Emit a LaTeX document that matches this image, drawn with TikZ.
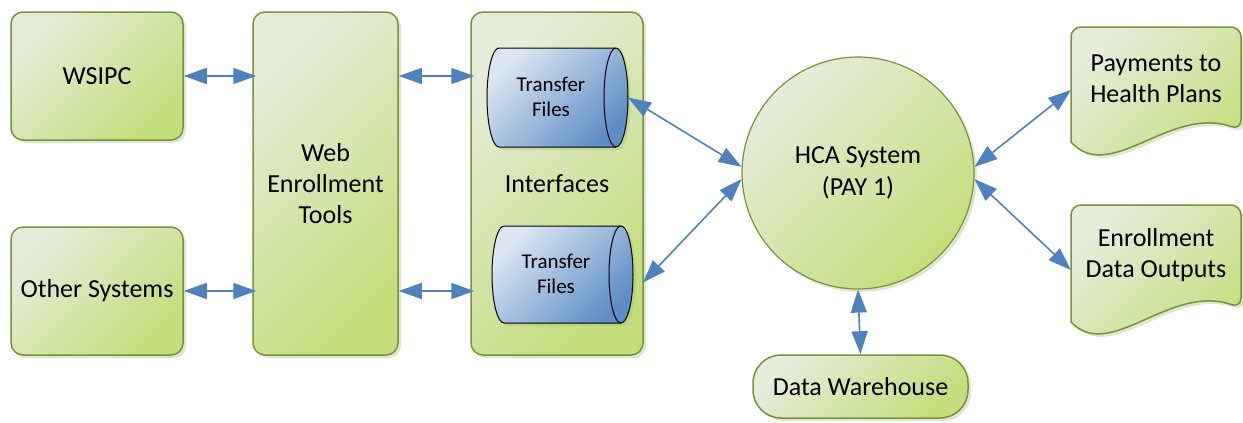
\documentclass[tikz,border=0pt]{standalone}
\usepackage{fontspec}
\setmainfont{Carlito}
\usetikzlibrary{arrows.meta,shadows}
\definecolor{gborder}{HTML}{77933C}
\definecolor{glight}{HTML}{E6ECDA}
\definecolor{gdark}{HTML}{C3DE7C}
\definecolor{blight}{HTML}{DCE6F2}
\definecolor{bdark}{HTML}{5F8DC6}
\definecolor{arr}{HTML}{4F81BD}
\begin{document}
\begin{tikzpicture}[x=1pt,y=-1pt,
  myshadow/.style={drop shadow={shadow xshift=3pt,shadow yshift=-3pt,opacity=0.35,fill=gdark!60!gray}},
  gshade/.style={top color=glight,bottom color=gdark,shading angle=45},
  greenbox/.style={draw=gborder,line width=1.5pt,rounded corners=12pt,gshade,myshadow,
     font=\fontsize{26}{31}\selectfont,align=center},
  cylbody/.style={draw=black,line width=1pt,top color=blight,bottom color=bdark,shading angle=45,myshadow},
  cylline/.style={draw=black,line width=1pt},
  cyltext/.style={font=\fontsize{21}{25}\selectfont,align=center},
  docshape/.style={draw=gborder,line width=1.5pt,gshade,myshadow},
  bigtext/.style={font=\fontsize{26}{31}\selectfont,align=center},
  anchorbox/.style={inner sep=0pt,outer sep=0pt},
  arrowst/.style={draw=arr,line width=1.6pt,{Triangle[length=23pt,width=16pt]}-{Triangle[length=23pt,width=16pt]}}
]
\useasboundingbox (0,0) rectangle (1243,423);
% left boxes
\node[greenbox,minimum width=172pt,minimum height=128pt] (wsipc) at (97,76) {WSIPC};
\node[greenbox,minimum width=172pt,minimum height=128pt] (other) at (97,291) {Other Systems};
\node[greenbox,minimum width=145pt,minimum height=343pt] (web) at (325.5,183.5) {Web\\Enrollment\\Tools};
\node[greenbox,minimum width=172pt,minimum height=343pt] (intf) at (557,183.5) {Interfaces};
% cylinders
\node[anchorbox,minimum width=141pt,minimum height=99pt] (cyl1) at (557.5,97.5) {};
\path[cylbody] (499,48) -- (616,48) .. controls (622.6,48) and (628,70.2) .. (628,97.5)
  .. controls (628,124.8) and (622.6,147) .. (616,147) -- (499,147)
  .. controls (492.4,147) and (487,124.8) .. (487,97.5)
  .. controls (487,70.2) and (492.4,48) .. (499,48) -- cycle;
\path[cylline] (616,48) .. controls (609.4,48) and (604,70.2) .. (604,97.5)
  .. controls (604,124.8) and (609.4,147) .. (616,147);
\node[cyltext] (cyl1text) at (551,97) {Transfer\\Files};
\node[anchorbox,minimum width=141pt,minimum height=97pt] (cyl2) at (562.5,274.5) {};
\path[cylbody] (504,226) -- (621,226) .. controls (627.6,226) and (633,247.7) .. (633,274.5)
  .. controls (633,301.3) and (627.6,323) .. (621,323) -- (504,323)
  .. controls (497.4,323) and (492,301.3) .. (492,274.5)
  .. controls (492,247.7) and (497.4,226) .. (504,226) -- cycle;
\path[cylline] (621,226) .. controls (614.4,226) and (609,247.7) .. (609,274.5)
  .. controls (609,301.3) and (614.4,323) .. (621,323);
\node[cyltext] (cyl2text) at (556,274) {Transfer\\Files};
% HCA circle
\node[circle,draw=gborder,line width=1.2pt,gshade,myshadow,minimum size=232pt,
      font=\fontsize{26}{32}\selectfont,align=center] (hca) at (858,173) {HCA System\\(PAY 1)};
% data warehouse
\node[greenbox,rounded corners=28pt,minimum width=215pt,minimum height=63pt] (dw) at (860.5,386.5) {Data Warehouse};
% documents
\node[anchorbox,minimum width=170pt,minimum height=126pt] (pay) at (1156,90) {};
\path[docshape] (1071,142) [rounded corners=10pt] -- (1071,27) -- (1241,27) -- (1241,130) [sharp corners]
   .. controls (1170,105) and (1110,185) .. (1071,142) -- cycle;
\node[bigtext] (paytext) at (1156,79) {Payments to\\Health Plans};
\node[anchorbox,minimum width=170pt,minimum height=130pt] (enr) at (1156,270) {};
\path[docshape] (1071,322) [rounded corners=10pt] -- (1071,205) -- (1241,205) -- (1241,308) [sharp corners]
   .. controls (1170,283) and (1110,363) .. (1071,322) -- cycle;
\node[bigtext] (enrtext) at (1156,255) {Enrollment\\Data Outputs};
% connectors
\draw[arrowst] (wsipc.east) -- ([xshift=4pt]wsipc.east -| web.west);
\draw[arrowst] (other.east) -- ([xshift=4pt]other.east -| web.west);
\draw[arrowst] (web.east |- wsipc.east) -- ([xshift=4pt]intf.west |- wsipc.east);
\draw[arrowst] (web.east |- other.east) -- ([xshift=4pt]intf.west |- other.east);
\draw[arrowst] (cyl1.east) -- (hca.177);
\draw[arrowst] ([xshift=10pt,yshift=-8pt]cyl2.east) -- (hca.183);
\draw[arrowst] (hca.3) -- (pay.west);
\draw[arrowst] (hca.-3) -- (enr.west);
\draw[arrowst] (hca.south) -- (dw.north);
\end{tikzpicture}
\end{document}
